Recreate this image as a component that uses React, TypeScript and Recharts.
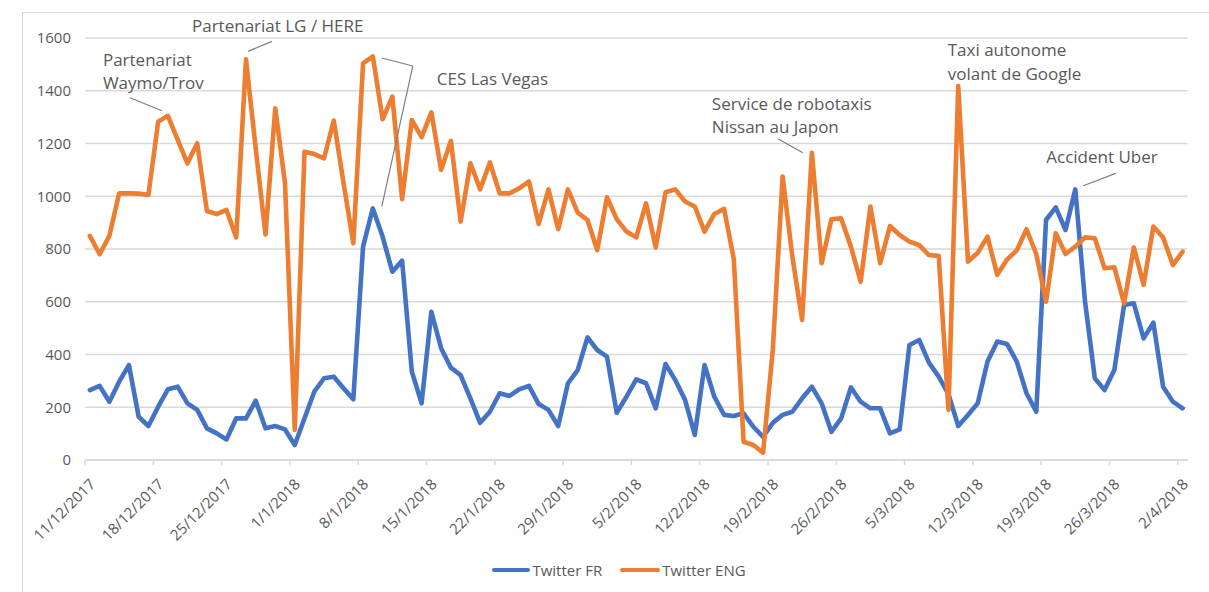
import React from 'react';
import { LineChart, Line, XAxis, YAxis, CartesianGrid, ReferenceDot } from 'recharts';

// week ticks on the date axis
const dateTicks = [
  '11/12/2017', '18/12/2017', '25/12/2017', '1/1/2018', '8/1/2018', '15/1/2018',
  '22/1/2018', '29/1/2018', '5/2/2018', '12/2/2018', '19/2/2018', '26/2/2018',
  '5/3/2018', '12/3/2018', '19/3/2018', '26/3/2018', '2/4/2018'
];

const yTicks = [0, 200, 400, 600, 800, 1000, 1200, 1400, 1600];

// daily counts, 11/12/2017 -> 2/4/2018
const twitterFR = [
  265, 281, 221, 297, 360, 164, 129, 202, 268, 278, 215, 190, 120, 101, 78, 158,
  158, 225, 120, 129, 116, 57, 158, 259, 310, 316, 272, 230, 809, 954, 847, 714,
  756, 335, 215, 562, 424, 350, 322, 234, 141, 183, 253, 243, 268, 281, 212, 190,
  129, 291, 341, 465, 417, 392, 179, 240, 306, 291, 196, 364, 303, 228, 95, 360,
  240, 171, 167, 177, 126, 88, 141, 171, 183, 234, 278, 215, 107, 158, 275, 221,
  196, 196, 101, 116, 436, 455, 369, 316, 250, 129, 171, 215, 373, 449, 440, 373,
  253, 183, 910, 958, 872, 1026, 600, 310, 265, 341, 588, 594, 461, 521, 278, 221,
  196
];

const twitterENG = [
  850, 780, 850, 1011, 1011, 1010, 1005, 1283, 1305, 1214, 1125, 1201, 944, 932, 948, 844,
  1519, 1180, 855, 1333, 1049, 114, 1169, 1160, 1144, 1287, 1050, 822, 1504, 1530, 1292, 1378,
  989, 1289, 1224, 1318, 1100, 1210, 904, 1125, 1026, 1128, 1011, 1011, 1030, 1056, 895, 1026,
  875, 1026, 938, 910, 796, 996, 913, 866, 844, 973, 806, 1015, 1026, 980, 961, 866,
  933, 952, 761, 69, 57, 28, 420, 1075, 771, 531, 1165, 746, 913, 916, 809, 676,
  961, 746, 887, 853, 828, 815, 777, 774, 190, 1418, 752, 786, 847, 702, 760, 795,
  875, 781, 600, 860, 781, 809, 844, 841, 727, 731, 594, 806, 664, 885, 844, 739,
  790
];

// each day sits in the middle of its slot on the date axis
const chartData = twitterFR.map((fr, i) => ({ day: i + 0.5, fr, eng: twitterENG[i] }));

const FONT = '"Open Sans", sans-serif';
const TEXT = '#595959';
const GRID = '#d9d9d9';
const BLUE = '#4472C4';
const ORANGE = '#ED7D31';

const DateTick = (props: any) => {
  const { x, y, payload } = props;
  const tx = x + 7;
  const ty = y + 14;
  return (
    <text
      x={tx}
      y={ty}
      transform={`rotate(-45 ${tx} ${ty})`}
      textAnchor="end"
      dominantBaseline="central"
      fill={TEXT}
      fontSize={15}
      fontFamily={FONT}
    >
      {dateTicks[Math.round(payload.value / 7)]}
    </text>
  );
};

// annotation drawn relative to the point it points at
const callout = (lines: string[], dx: number, dy: number, leader: number[][] = []) => (props: any) => {
  const { cx, cy } = props;
  return (
    <g>
      {leader.length > 1 && (
        <polyline
          points={leader.map(([lx, ly]) => `${cx + lx},${cy + ly}`).join(' ')}
          fill="none"
          stroke="#7f7f7f"
          strokeWidth={1.2}
        />
      )}
      {lines.map((t, i) => (
        <text key={i} x={cx + dx} y={cy + dy + i * 23.5} fill={TEXT} fontSize={17} fontFamily={FONT}>
          {t}
        </text>
      ))}
    </g>
  );
};

const Legend = () => (
  <div style={{
    position: 'absolute', top: 560, left: 0, width: 1238, display: 'flex', justifyContent: 'center',
    alignItems: 'center', fontFamily: FONT, fontSize: 15, color: TEXT
  }}>
    <span style={{ display: 'inline-block', width: 38, height: 4, background: BLUE, borderRadius: 2 }} />
    <span style={{ marginLeft: 2, marginRight: 18 }}>Twitter FR</span>
    <span style={{ display: 'inline-block', width: 40, height: 4, background: ORANGE, borderRadius: 2 }} />
    <span style={{ marginLeft: 2 }}>Twitter ENG</span>
  </div>
);

const App: React.FC = () => {
  const at = (i: number) => i + 0.5;
  return (
    <div style={{ position: 'absolute', top: 0, left: 0, width: 1209, height: 592, overflow: 'hidden', background: '#fff' }}>
      <div style={{ position: 'absolute', left: 22, top: 12, width: 1300, height: 700, border: `1px solid ${GRID}` }} />
      <div style={{ position: 'absolute', top: 0, left: 0 }}>
        <LineChart width={1209} height={592} data={chartData} margin={{ top: 38, right: 21.5, left: 0, bottom: 102 }}>
          <CartesianGrid horizontal vertical={false} stroke={GRID} strokeWidth={1.5} />
          <XAxis
            type="number"
            dataKey="day"
            domain={[0, 113]}
            ticks={dateTicks.map((_, i) => i * 7)}
            interval={0}
            height={30}
            axisLine={{ stroke: GRID, strokeWidth: 1.5 }}
            tickLine={{ stroke: GRID, strokeWidth: 1.5 }}
            tickSize={5}
            tick={<DateTick />}
          />
          <YAxis
            domain={[0, 1600]}
            ticks={yTicks}
            interval={0}
            width={85}
            axisLine={false}
            tickLine={false}
            tickSize={0}
            tickMargin={14}
            tick={{ fill: TEXT, fontSize: 15, fontFamily: FONT }}
          />
          <Line type="linear" dataKey="fr" name="Twitter FR" stroke={BLUE} strokeWidth={4.6}
            strokeLinejoin="round" strokeLinecap="round" dot={false} isAnimationActive={false} />
          <Line type="linear" dataKey="eng" name="Twitter ENG" stroke={ORANGE} strokeWidth={4.6}
            strokeLinejoin="round" strokeLinecap="round" dot={false} isAnimationActive={false} />

          <ReferenceDot x={at(8)} y={twitterENG[8]} r={0}
            shape={callout(['Partenariat', 'Waymo/Trov'], -65, -50, [[-6, -5], [-38, -18]])} />
          <ReferenceDot x={at(16)} y={twitterENG[16]} r={0}
            shape={callout(['Partenariat LG / HERE'], -54, -27, [[2, -8], [26, -18]])} />
          <ReferenceDot x={at(29)} y={twitterENG[29]} r={0}
            shape={callout(['CES Las Vegas'], 64, 28.5, [[9, 1.5], [40, 9.5]])} />
          <ReferenceDot x={at(29)} y={twitterFR[29]} r={0}
            shape={callout([], 0, 0, [[9, -2], [40, -142.4]])} />
          <ReferenceDot x={at(74)} y={twitterENG[74]} r={0}
            shape={callout(['Service de robotaxis', 'Nissan au Japon'], -100, -43, [[-33.6, -13.8], [-9, 0]])} />
          <ReferenceDot x={at(89)} y={twitterENG[89]} r={0}
            shape={callout(['Taxi autonome', 'volant de Google'], -10.5, -30)} />
          <ReferenceDot x={at(101)} y={twitterFR[101]} r={0}
            shape={callout(['Accident Uber'], -29, -26, [[8, -3.7], [40.4, -16]])} />
        </LineChart>
      </div>
      <Legend />
    </div>
  );
};

export default App;
